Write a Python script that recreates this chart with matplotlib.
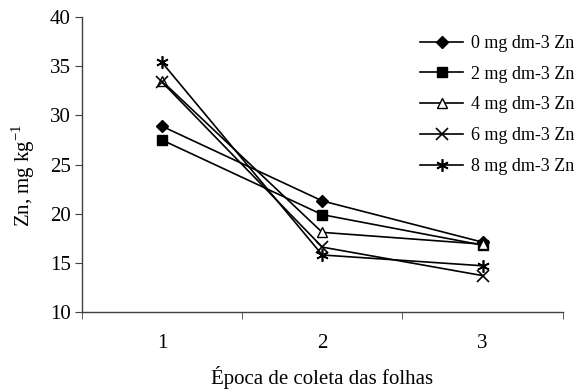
import matplotlib
matplotlib.use("Agg")
import matplotlib.pyplot as plt

plt.rcParams['font.family'] = ['Liberation Serif', 'DejaVu Serif']
plt.rcParams['mathtext.fontset'] = 'custom'
plt.rcParams['mathtext.rm'] = 'Liberation Serif'

epochs = [1, 2, 3]
labels = ["0 mg dm-3 Zn", "2 mg dm-3 Zn", "4 mg dm-3 Zn", "6 mg dm-3 Zn", "8 mg dm-3 Zn"]
zn0 = [28.9, 21.3, 17.1]
zn2 = [27.5, 19.9, 16.8]
zn4 = [33.5, 18.1, 16.9]
zn6 = [33.4, 16.6, 13.7]
zn8 = [35.4, 15.8, 14.7]
yticks = [10, 15, 20, 25, 30, 35, 40]

series = [zn0, zn2, zn4, zn6, zn8]
markers = [dict(marker='D', ms=6, mfc='black'),
           dict(marker='s', ms=7, mfc='black'),
           dict(marker='^', ms=7, mfc='white'),
           dict(marker='x', ms=8, mew=1.2),
           dict(marker=(6, 2, 0), ms=9, mew=1.2)]

fig = plt.figure(figsize=(5.76, 3.89), dpi=100)
ax = fig.add_axes([0.142, 0.198, 0.835, 0.758])

for vals, lab, mk in zip(series, labels, markers):
    ax.plot(epochs, vals, color='black', lw=1.2, mec='black', label=lab, **mk)

ax.set_xlim(0.5, 3.5)
ax.set_ylim(10, 40)
ax.set_yticks(yticks)
ax.set_xticks(epochs)
ax.set_xticks([0.5, 1.5, 2.5, 3.5], minor=True)
ax.tick_params(axis='x', which='major', length=0, pad=16, labelsize=15)
ax.tick_params(axis='x', which='minor', length=5, direction='out', color='#404040')
ax.tick_params(axis='y', length=5, direction='out', labelsize=15, color='#404040', pad=3)
for s in ['top', 'right']:
    ax.spines[s].set_visible(False)
for s in ['left', 'bottom']:
    ax.spines[s].set_color('#404040')
    ax.spines[s].set_linewidth(1.0)

ax.set_xlabel("Época de coleta das folhas", fontsize=15, labelpad=9)
ax.set_ylabel("Zn, mg kg$^{-1}$", fontsize=15)
ax.yaxis.set_label_coords(-0.094, 0.465)

leg = fig.legend(loc='upper left', bbox_to_anchor=(420/576, 1-35/389), frameon=False,
                 fontsize=13, handlelength=2.4, handletextpad=0.4, labelspacing=0.76,
                 borderpad=0, borderaxespad=0)

fig.savefig("out.png", dpi=100)
